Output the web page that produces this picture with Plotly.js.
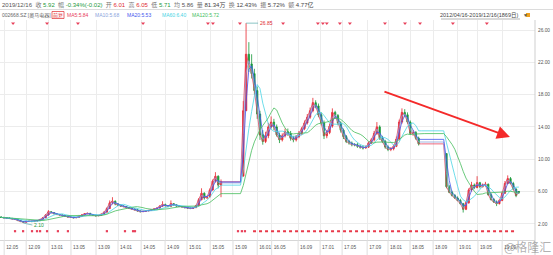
<!DOCTYPE html>
<html><head><meta charset="utf-8">
<script src="https://cdn.plot.ly/plotly-3.0.1.min.js"></script>
<style>html,body{margin:0;padding:0;background:#fff}#c{width:553px;height:255px}</style>
</head><body><div id="c"></div>
<script>
// ---- data: one candle per 10 trading days, 2012/04/16 - 2019/12/16 (null = suspended) ----
const STEP = 10;
const openP = [
2.85,2.80,2.75,2.72,2.68,2.62,2.55,2.40,2.28,2.20,
2.30,2.32,2.28,2.35,2.40,2.55,2.75,3.10,3.50,3.40,
3.25,3.15,3.10,3.00,2.95,2.85,2.80,2.75,2.80,2.95,
3.10,3.25,3.30,3.15,3.05,3.00,3.05,3.20,3.45,3.90,
4.60,4.80,4.45,4.30,4.20,4.15,4.00,3.90,3.85,3.75,
3.60,3.50,3.55,3.60,3.65,3.75,3.85,3.95,4.20,4.40,
4.25,4.15,4.50,4.35,4.20,4.15,4.10,4.00,3.95,3.90,
4.00,4.25,5.00,5.80,5.20,5.35,6.20,7.30,7.90,6.80,
null,null,null,null,null,null,null,7.90,16.0,23.0,
21.8,20.6,18.5,15.6,13.0,12.2,12.9,14.0,14.6,14.0,
13.0,12.4,12.9,13.4,13.2,12.6,12.4,12.8,13.2,13.8,
14.5,15.2,16.0,17.0,16.6,15.5,14.5,12.9,13.3,14.1,
15.8,15.4,14.5,13.6,12.8,12.2,12.0,11.8,11.8,11.6,
11.5,11.4,11.5,12.0,12.4,13.2,14.0,12.6,12.2,11.5,
11.2,11.3,11.6,12.5,14.6,15.8,15.5,14.6,13.2,13.3,
12.6,null,null,null,null,null,null,null,null,null,
10.7,6.6,5.9,5.5,5.2,4.9,4.5,3.8,4.6,6.2,
6.8,6.5,7.1,6.6,6.8,6.9,5.6,5.0,4.7,4.5,
4.9,5.8,7.0,7.6,7.0,6.3,6.01];
const highP = [
2.92,2.86,2.80,2.78,2.72,2.66,2.58,2.45,2.32,2.36,
2.38,2.36,2.40,2.46,2.60,2.82,3.20,3.70,3.58,3.45,
3.30,3.22,3.15,3.06,3.00,2.90,2.85,2.84,3.00,3.16,
3.32,3.38,3.36,3.20,3.10,3.10,3.26,3.55,4.05,4.90,
5.30,4.90,4.55,4.38,4.28,4.20,4.05,3.96,3.90,3.80,
3.64,3.60,3.64,3.70,3.80,3.92,4.02,4.30,4.80,4.50,
4.32,4.90,4.58,4.40,4.26,4.20,4.14,4.05,4.00,4.05,
4.35,5.20,6.40,5.90,5.50,6.40,7.50,8.40,8.00,7.50,
null,null,null,null,null,null,null,17.2,26.85,24.5,
23.0,21.2,19.0,16.0,13.6,13.4,14.5,15.3,15.0,14.3,
13.3,13.2,13.8,13.8,13.5,12.9,13.0,13.5,14.0,14.8,
15.6,16.4,17.6,17.3,16.9,15.8,14.8,13.6,14.4,16.3,
16.0,15.6,14.7,13.8,13.0,12.4,12.2,12.0,12.0,11.8,
11.7,11.7,12.2,12.6,13.5,14.6,14.2,12.9,12.4,11.7,
11.5,11.8,12.8,14.9,16.3,16.2,15.8,14.8,13.6,13.5,
12.8,null,null,null,null,null,null,null,null,null,
10.7,6.8,6.1,5.7,5.4,5.1,4.6,4.8,6.4,7.2,
7.0,7.9,7.2,7.0,7.2,7.0,5.8,5.2,4.9,5.0,
6.0,7.3,8.0,7.8,7.2,6.4,6.05];
const lowP = [
2.74,2.70,2.68,2.63,2.58,2.50,2.35,2.24,2.10,2.16,
2.25,2.24,2.24,2.30,2.36,2.50,2.70,3.02,3.30,3.18,
3.10,3.05,2.95,2.90,2.80,2.76,2.70,2.70,2.76,2.90,
3.05,3.18,3.10,3.00,2.94,2.95,3.00,3.15,3.40,3.85,
4.40,4.30,4.20,4.10,4.06,3.92,3.84,3.78,3.68,3.52,
3.44,3.46,3.50,3.56,3.60,3.70,3.80,3.90,4.10,4.15,
4.05,4.10,4.25,4.12,4.08,4.02,3.94,3.88,3.82,3.86,
3.96,4.20,4.90,5.00,5.10,5.30,6.10,7.10,6.40,5.30,
null,null,null,null,null,null,null,7.90,16.0,20.8,
20.0,18.0,15.0,12.4,11.8,12.0,12.6,13.8,13.6,12.8,
12.0,12.2,12.7,12.9,12.3,12.1,12.2,12.6,13.0,13.6,
14.3,15.0,15.8,16.3,15.2,14.2,12.5,12.6,13.1,13.9,
15.0,14.2,13.3,12.5,12.0,11.8,11.6,11.6,11.4,11.3,
11.2,11.3,11.4,11.9,12.2,13.0,12.4,12.0,11.3,11.0,
11.0,11.1,11.5,12.3,14.4,15.2,14.4,13.0,12.9,12.4,
11.7,null,null,null,null,null,null,null,null,null,
6.4,5.8,5.4,5.1,4.8,4.4,3.4,3.7,4.5,6.0,
6.3,6.4,6.4,6.5,6.6,5.5,4.9,4.6,4.2,4.4,
4.8,5.7,6.9,6.9,6.2,5.3,5.71];
const closeP = [
2.80,2.75,2.72,2.68,2.62,2.55,2.40,2.28,2.20,2.30,
2.32,2.28,2.35,2.40,2.55,2.75,3.10,3.50,3.40,3.25,
3.15,3.10,3.00,2.95,2.85,2.80,2.75,2.80,2.95,3.10,
3.25,3.30,3.15,3.05,3.00,3.05,3.20,3.45,3.90,4.60,
4.80,4.45,4.30,4.20,4.15,4.00,3.90,3.85,3.75,3.60,
3.50,3.55,3.60,3.65,3.75,3.85,3.95,4.20,4.40,4.25,
4.15,4.50,4.35,4.20,4.15,4.10,4.00,3.95,3.90,4.00,
4.25,5.00,5.80,5.20,5.35,6.20,7.30,7.90,6.80,7.20,
null,null,null,null,null,null,null,16.0,23.0,21.8,
20.6,18.5,15.6,13.0,12.2,12.9,14.0,14.6,14.0,13.0,
12.4,12.9,13.4,13.2,12.6,12.4,12.8,13.2,13.8,14.5,
15.2,16.0,17.0,16.6,15.5,14.5,12.9,13.3,14.1,15.8,
15.4,14.5,13.6,12.8,12.2,12.0,11.8,11.8,11.6,11.5,
11.4,11.5,12.0,12.4,13.2,14.0,12.6,12.2,11.5,11.2,
11.3,11.6,12.5,14.6,15.8,15.5,14.6,13.2,13.3,12.6,
11.9,null,null,null,null,null,null,null,null,null,
6.6,5.9,5.5,5.2,4.9,4.5,3.8,4.6,6.2,6.8,
6.5,7.1,6.6,6.8,6.9,5.6,5.0,4.7,4.5,4.9,
5.8,7.0,7.6,7.0,6.3,5.5,5.92];

const tickDays   = [11,90,172,251,341,420,503,589,668,751,833,920,972,1067,1146,1225,1315,1390,1469,1552,1638,1713,1800];
const tickLabels = ['12.05','12.09','13.01','13.05','13.09','14.01','14.05','14.09','15.01','15.05','15.09','16.01',
                    '16.05','16.09','17.01','17.05','17.09','18.01','18.05','18.09','19.01','19.05','19.09'];
const yTicks = [2,6,10,14,18,22,26];

const maNames  = ['MA5','MA10','MA20','MA60','MA120'];
const maSpan   = [1,1.5,2.5,6,12];           // window in samples
const maColors = ['#e8405a','#8aa4dc','#3f55ee','#4ad4e4','#45bd5c'];
const maLast   = ['5.84','5.68','5.53','6.40','5.72'];

const headItems = [
  ['','2019/12/16','#555'],['收','5.92','#1c9a3c'],['幅','-0.34%(-0.02)','#1c9a3c'],['开','6.01','#e0292f'],
  ['高','6.05','#e0292f'],['低','5.71','#1c9a3c'],['均','5.86','#555'],['量','81.34万','#444'],
  ['换','12.43%','#444'],['振','5.72%','#444'],['额','4.77亿','#444']
];

const topMarkDays    = [43,165,276,510,743,761,858,1013,1138,1156,1170,1217,1253,1379,1451,1505,1623,1745];
const bottomMarkDays = [50,79,111,129,140,165,204,240,380,445,474,481,851,865,876];
const eventSpan      = [905,1850];

const peakDay = 880, peakVal = 26.85, lowDay = 80, lowVal = 2.10;

// ---- build ----
const FONT = 'Liberation Sans, Noto Sans CJK SC, sans-serif';
const days = closeP.map((_, i) => i * STEP);

function movAvg(w){
  const out = [], hist = []; let last = null;
  for (let i = 0; i < closeP.length; i++){
    const c = closeP[i];
    if (c === null){ out.push(last); continue; }
    hist.push(c);
    const n = Math.floor(w), f = w - n; let s = 0, wt = 0;
    for (let k = 0; k < n && k < hist.length; k++){ s += hist[hist.length-1-k]; wt += 1; }
    if (f > 0 && hist.length > n){ s += f * hist[hist.length-1-n]; wt += f; }
    last = s / wt; out.push(last);
  }
  return out;
}

const traces = [{
  type:'candlestick', x:days, open:openP, high:highP, low:lowP, close:closeP,
  increasing:{line:{color:'#e8262d',width:0.8}, fillcolor:'#e8262d'},
  decreasing:{line:{color:'#18993a',width:0.8}, fillcolor:'#18993a'},
  whiskerwidth:0, hoverinfo:'skip', showlegend:false
}];
maNames.forEach((n, k) => {
  traces.push({type:'scatter', mode:'lines', x:days, y:movAvg(maSpan[k]), name:n,
    line:{color:maColors[k], width:0.8}, hoverinfo:'skip', showlegend:false});
});
traces.push({type:'scatter', mode:'markers', x:topMarkDays, y:topMarkDays.map(()=>0.985), yaxis:'y2',
  marker:{symbol:'triangle-down', size:3.5, color:'#e8405a'}, hoverinfo:'skip'});
traces.push({type:'scatter', mode:'markers', x:bottomMarkDays, y:bottomMarkDays.map(()=>0.04), yaxis:'y2',
  marker:{symbol:'square', size:2.2, color:'#e8405a'}, hoverinfo:'skip'});
traces.push({type:'scatter', mode:'lines', x:eventSpan, y:[0.04,0.04], yaxis:'y2',
  line:{color:'#e83a4a', width:2, dash:'dot'}, hoverinfo:'skip'});

const W = 535;
const px = v => v / W;
const py = v => (240 - v) / 220;
const NB = '\u00a0';
const headText = headItems.map(h => (h[0] ? '<span style="color:#777">' + h[0] + '</span>' + NB : '') +
  '<span style="color:' + h[2] + '">' + h[1] + '</span>').join(NB + NB);
const ann = [];
ann.push({xref:'paper', yref:'paper', x:0, y:py(5), xanchor:'left', yanchor:'middle', showarrow:false,
  text:headText, font:{family:FONT, size:6, color:'#555'}});
ann.push({xref:'paper', yref:'paper', x:px(0), y:py(15), xanchor:'left', yanchor:'middle', showarrow:false,
  text:'002668.SZ' + NB + '[奥马电器]', font:{family:FONT, size:5, color:'#666'}});
ann.push({xref:'paper', yref:'paper', x:px(58), y:py(15), xanchor:'center', yanchor:'middle', showarrow:false,
  text:'前复', font:{family:FONT, size:5, color:'#e0292f'}});
const maX = [65,93,125,160,190];
maNames.forEach((n,k) => ann.push({xref:'paper', yref:'paper', x:px(maX[k]), y:py(15), xanchor:'left', yanchor:'middle',
  showarrow:false, text:n+':'+maLast[k], font:{family:FONT, size:5, color:maColors[k]}}));
ann.push({xref:'paper', yref:'paper', x:px(520), y:py(15), xanchor:'right', yanchor:'middle', showarrow:false,
  text:'2012/04/16-2019/12/16(1869日)', font:{family:FONT, size:5.5, color:'#444'}});
ann.push({xref:'paper', yref:'paper', x:px(520.5), y:py(15), xanchor:'left', yanchor:'middle', showarrow:false,
  text:'▼', font:{family:FONT, size:5, color:'#555'}});
ann.push({xref:'x', yref:'y', x:peakDay, y:peakVal, text:'26.85', showarrow:true, arrowhead:0, ax:12, ay:0,
  xanchor:'left', arrowcolor:'#55aaaa', arrowwidth:0.7, font:{family:FONT, size:5, color:'#e0292f'}});
ann.push({xref:'x', yref:'y', x:lowDay, y:lowVal, text:'2.10', showarrow:true, arrowhead:0, ax:9, ay:2,
  xanchor:'left', arrowcolor:'#55aaaa', arrowwidth:0.7, font:{family:FONT, size:5, color:'#1c9a3c'}});
ann.push({xref:'x', yref:'y', x:1828, y:12.75, ax:-127, ay:-46, text:'', showarrow:true,
  arrowhead:2, arrowsize:1.3, arrowwidth:2, arrowcolor:'#f42a2a'});
ann.push({xref:'paper', yref:'paper', x:px(553), y:py(246), xanchor:'right', yanchor:'middle', showarrow:false,
  text:'@格隆汇', font:{family:'Noto Sans CJK SC, sans-serif', size:12, color:'rgba(110,110,110,0.55)'}});

const shapes = [
  {type:'line', xref:'paper', yref:'paper', x0:0, x1:px(553), y0:py(9.5), y1:py(9.5), line:{color:'#dcdcdc', width:1}},
  {type:'line', xref:'paper', yref:'paper', x0:px(441), x1:px(520), y0:py(19), y1:py(19), line:{color:'#666', width:0.5}},
  {type:'rect', xref:'paper', yref:'paper', x0:px(52), x1:px(64), y0:py(18.5), y1:py(11.5), line:{color:'#e0292f', width:0.7}},
  {type:'rect', xref:'paper', yref:'paper', x0:px(526), x1:px(530), y0:py(17), y1:py(13), line:{width:0}, fillcolor:'#f0a020'},
  {type:'line', xref:'paper', yref:'paper', x0:1, x1:1, y0:py(255), y1:py(20), line:{color:'#cfcfcf', width:1}}
];
tickDays.forEach(d => shapes.push({type:'line', xref:'x', yref:'paper', x0:d, x1:d, y0:py(255), y1:0,
  line:{color:'#dedede', width:1}}));

const layout = {
  width:553, height:255, margin:{l:0, r:18, t:20, b:15}, paper_bgcolor:'#fff', plot_bgcolor:'#fff',
  showlegend:false, font:{family:FONT, size:5, color:'#555'},
  xaxis:{range:[-4,1918], tickvals:tickDays, ticktext:tickLabels, showgrid:true, gridcolor:'#ececec', gridwidth:1,
    zeroline:false, showline:true, linecolor:'#d6d6d6', ticks:'', tickfont:{size:4.8, color:'#555'},
    ticklabelshift:8, ticklabelstandoff:2, rangeslider:{visible:false}, fixedrange:true},
  yaxis:{side:'right', range:[0,27.24], tickvals:yTicks, tickformat:'.2f', showgrid:true, gridcolor:'#ececec',
    zeroline:false, showline:false, ticks:'', tickfont:{size:4.8, color:'#555'}, ticklabelstandoff:2, fixedrange:true},
  yaxis2:{overlaying:'y', range:[0,1], visible:false, fixedrange:true},
  shapes:shapes, annotations:ann
};
Plotly.newPlot('c', traces, layout, {staticPlot:true, displayModeBar:false});
</script></body></html>
